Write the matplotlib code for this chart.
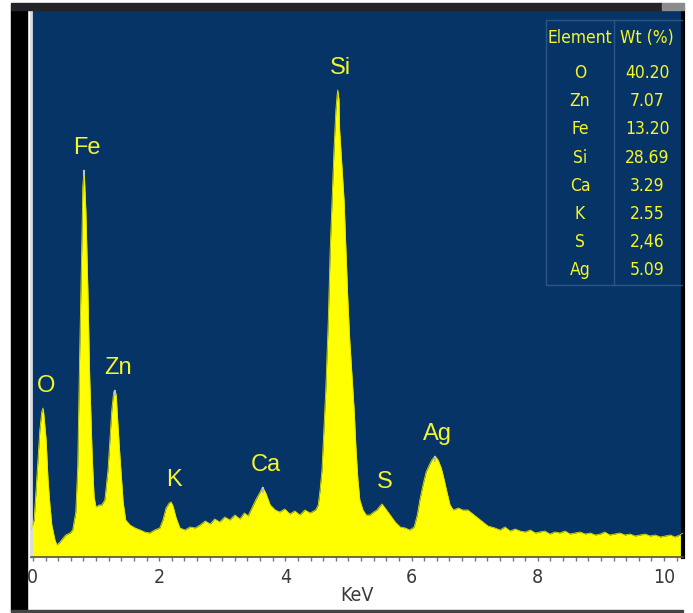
import numpy as np
import matplotlib
matplotlib.use('Agg')
import matplotlib.pyplot as plt
from matplotlib.patches import Rectangle

# spectrum (keV, counts)
energy = [-0.03, 0.02, 0.05, 0.08, 0.11, 0.14, 0.16, 0.17, 0.21, 0.24, 0.27, 0.30, 0.35, 0.38,
          0.43, 0.48, 0.52, 0.59, 0.63, 0.68, 0.71, 0.74, 0.78, 0.79, 0.81, 0.82, 0.84, 0.87,
          0.90, 0.94, 0.97, 1.00, 1.05, 1.09, 1.14, 1.19, 1.22, 1.25, 1.28, 1.30, 1.32, 1.35,
          1.38, 1.43, 1.47, 1.54, 1.62, 1.70, 1.77, 1.85, 1.93, 2.01, 2.06, 2.11, 2.16, 2.19,
          2.22, 2.27, 2.33, 2.41, 2.49, 2.57, 2.65, 2.73, 2.81, 2.88, 2.96, 3.04, 3.12, 3.20,
          3.28, 3.35, 3.41, 3.47, 3.53, 3.60, 3.64, 3.69, 3.76, 3.84, 3.91, 3.99, 4.07, 4.15,
          4.23, 4.31, 4.39, 4.48, 4.52, 4.55, 4.58, 4.61,
          4.64, 4.68, 4.71, 4.74, 4.77, 4.80, 4.82, 4.83, 4.85, 4.86, 4.90, 4.93, 4.96, 4.99,
          5.02, 5.06, 5.09, 5.12, 5.15, 5.18, 5.23, 5.28, 5.34, 5.40, 5.45, 5.50, 5.53, 5.58,
          5.66, 5.74, 5.82, 5.90, 5.97, 6.04, 6.09, 6.13, 6.18, 6.23, 6.28, 6.32, 6.37, 6.42,
          6.47, 6.51, 6.56, 6.61, 6.66, 6.74, 6.81, 6.89, 6.97, 7.05, 7.13, 7.21, 7.32, 7.40,
          7.48, 7.56, 7.64, 7.72, 7.80, 7.88, 7.96, 8.03, 8.11, 8.19, 8.27, 8.35, 8.43, 8.51,
          8.59, 8.67, 8.75, 8.83, 8.91, 8.99, 9.06, 9.14, 9.22, 9.30, 9.38, 9.46, 9.54, 9.62,
          9.70, 9.78, 9.86, 9.94, 10.02, 10.10, 10.17, 10.25, 10.30]
counts = [27, 37, 67, 97, 127, 145, 149, 145, 117, 77, 52, 32, 17, 12,
          15, 19, 22, 24, 27, 45, 90, 200, 330, 370, 387, 375, 345, 270,
          180, 100, 60, 50, 52, 52, 57, 87, 117, 147, 165, 167, 162, 130,
          100, 55, 37, 32, 29, 27, 25, 24, 27, 29, 37, 49, 54, 55,
          51, 39, 29, 27, 30, 29, 32, 36, 33, 38, 35, 40, 37, 42,
          38, 44, 41, 49, 57, 65, 70, 64, 52, 47, 45, 48, 43, 46,
          42, 47, 44, 47, 52, 67, 87, 127,
          167, 237, 307, 357, 407, 447, 462, 467, 457, 427, 387, 357, 307, 257,
          217, 177, 147, 107, 77, 57, 47, 42, 42, 45, 47, 51, 53, 49,
          42, 35, 30, 29, 27, 30, 42, 57, 72, 85, 92, 97, 101, 97,
          89, 79, 65, 52, 47, 49, 47, 47, 43, 39, 35, 31, 29, 27,
          30, 26, 28, 26, 25, 27, 24, 25, 26, 23, 25, 24, 26, 23,
          24, 25, 23, 24, 22, 23, 25, 22, 23, 24, 22, 23, 21, 22,
          23, 21, 22, 20, 21, 22, 20, 22, 24]

peak_names = ['O', 'Fe', 'Zn', 'K', 'Ca', 'Si', 'S', 'Ag']
peak_kev = [0.16, 0.81, 1.30, 2.19, 3.64, 4.83, 5.53, 6.37]
marked = ['Fe', 'Zn', 'Ca', 'Ag']

table_elements = ['O', 'Zn', 'Fe', 'Si', 'Ca', 'K', 'S', 'Ag']
table_wt = ['40.20', '7.07', '13.20', '28.69', '3.29', '2.55', '2,46', '5.09']

xticks = [0, 2, 4, 6, 8, 10]
xticklabels = ['0', '2', '4', '6', '8', '10']

bg = '#073466'
yellow = '#ffff00'
txt_yellow = '#f5f52a'
W, H = 693, 613


def fx(px):
    return px / W


def fy(py):
    return 1 - py / H


fig = plt.figure(figsize=(W / 100, H / 100), dpi=100)
fig.patch.set_facecolor('white')

# screenshot frame bits around the plot
fig.patches.append(Rectangle((fx(11), fy(611)), fx(16), 601 / H, transform=fig.transFigure,
                             color='black', zorder=0))
fig.patches.append(Rectangle((fx(11), fy(10)), fx(651), 7 / H, transform=fig.transFigure,
                             color='#222428', zorder=0))
fig.patches.append(Rectangle((fx(662), fy(10)), fx(22), 7 / H, transform=fig.transFigure,
                             color='#8c8c8c', zorder=0))
fig.patches.append(Rectangle((fx(11), fy(612)), fx(672), 2 / H, transform=fig.transFigure,
                             color='#444444', zorder=0))

ax = fig.add_axes([fx(31), fy(557), fx(683 - 31), (557 - 10) / H])
ax.set_facecolor(bg)

ax.fill_between(energy, counts, 0, color=yellow, lw=0, zorder=2)
ax.plot(energy, counts, color='#e0e000', lw=0.6, zorder=3)

ax.set_xlim(-0.03, 10.3)
ax.set_ylim(0, 547)

for name, e in zip(peak_names, peak_kev):
    top = np.interp(e, energy, counts)
    if name in marked:
        ax.plot(e, top - 3, marker='|', ms=4, mew=1.5, color='#b8c0d0', zorder=4)
    ax.annotate(name, (e, top), xytext=(3, 11), textcoords='offset pixels',
                ha='center', va='bottom', color=txt_yellow, fontsize=17,
                family=['Liberation Sans', 'DejaVu Sans'], zorder=5)

# Element / Wt table
tb_left, tb_right, tb_bottom, tb_top = 0.790, 1.0, 0.497, 0.982
ax.add_patch(Rectangle((tb_left, tb_bottom), tb_right - tb_left, tb_top - tb_bottom,
                       transform=ax.transAxes, fill=False, ec='#2b5586', lw=1, zorder=4))
ax.plot([0.894, 0.894], [tb_bottom, tb_top], transform=ax.transAxes, color='#2b5586', lw=1, zorder=4)
col_el, col_wt = 0.842, 0.945
tfont = dict(color=txt_yellow, fontsize=12.5, family='DejaVu Sans', stretch='condensed', zorder=5)
ax.text(col_el, 0.949, 'Element', transform=ax.transAxes, ha='center', va='center', **tfont)
ax.text(col_wt, 0.949, 'Wt (%)', transform=ax.transAxes, ha='center', va='center', **tfont)
for i, (el, wt) in enumerate(zip(table_elements, table_wt)):
    yy = 0.885 - 0.0516 * i
    ax.text(col_el, yy, el, transform=ax.transAxes, ha='center', va='center', **tfont)
    ax.text(col_wt, yy, wt, transform=ax.transAxes, ha='center', va='center', **tfont)

ax.spines['top'].set_visible(False)
ax.spines['left'].set_color('#d8dce4')
ax.spines['left'].set_linewidth(2)
ax.spines['right'].set_color('black')
ax.spines['right'].set_linewidth(3)
ax.spines['bottom'].set_color('#555533')
ax.spines['bottom'].set_linewidth(1.2)

ax.set_yticks([])
ax.set_xticks(xticks)
ax.set_xticklabels(xticklabels, family='DejaVu Sans', stretch='condensed', fontsize=14, color='#3a3a3a')
ax.set_xticks(np.arange(0, 10.3, 0.2), minor=True)
ax.tick_params(axis='x', which='both', direction='out', length=3, width=1, color='#777777', pad=5)
ax.set_xlabel('KeV', family='DejaVu Sans', stretch='condensed', fontsize=14, color='#3a3a3a', labelpad=-1)

fig.savefig('out.png', dpi=100, facecolor='white')
